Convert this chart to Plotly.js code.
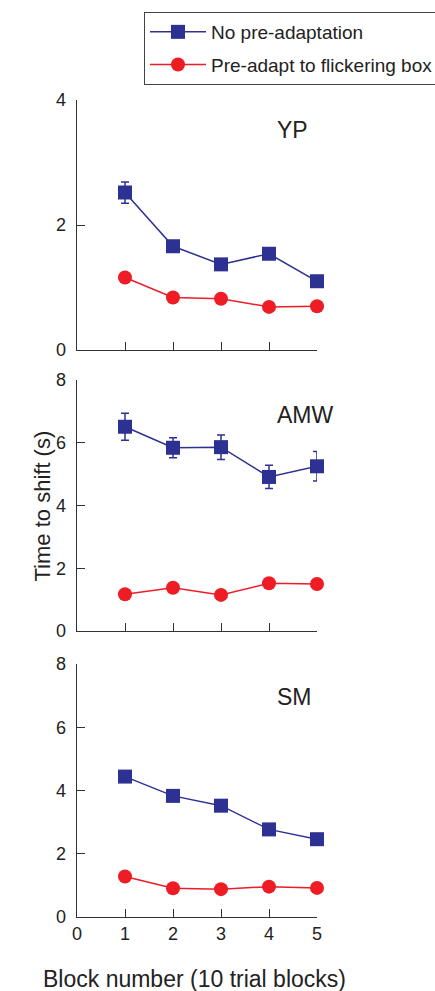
<!DOCTYPE html>
<html>
<head>
<meta charset="utf-8">
<script src="https://cdn.plot.ly/plotly-3.0.1.min.js"></script>
<style>html,body{margin:0;padding:0;background:#fff;}#chart{width:435px;height:991px;}</style>
</head>
<body>
<div id="chart"></div>
<script>
// ---- data ----
var blocks = [1, 2, 3, 4, 5];
var seriesNames = ["No pre-adaptation", "Pre-adapt to flickering box"];
var panelLabels = ["YP", "AMW", "SM"];
var xTickLabels = ["0", "1", "2", "3", "4", "5"];

var ypNoPre = [2.52, 1.66, 1.37, 1.54, 1.10];
var ypNoPreErr = [0.17, 0.05, 0.04, 0.05, 0.04];
var ypPre = [1.16, 0.84, 0.82, 0.69, 0.70];
var ypPreErr = [0.03, 0.03, 0.03, 0.03, 0.03];

var amwNoPre = [6.51, 5.84, 5.86, 4.91, 5.25];
var amwNoPreErr = [0.43, 0.32, 0.39, 0.37, 0.47];
var amwPre = [1.17, 1.38, 1.15, 1.52, 1.50];
var amwPreErr = [0.05, 0.05, 0.05, 0.1, 0.05];

var smNoPre = [4.44, 3.83, 3.52, 2.77, 2.46];
var smNoPreErr = [0.1, 0.06, 0.06, 0.06, 0.06];
var smPre = [1.28, 0.91, 0.88, 0.96, 0.92];
var smPreErr = [0.05, 0.04, 0.04, 0.04, 0.04];

var blue = "#2d3192";
var red = "#ee1c25";
var axisColor = "#333333";
var fontFam = "'Liberation Sans', Arial, Helvetica, sans-serif";

function mk(y, err, name, color, symbol, size, xa, ya, show) {
  return {
    x: blocks, y: y, name: name, type: "scatter", mode: "lines+markers",
    xaxis: xa, yaxis: ya, showlegend: show, legendgroup: name,
    cliponaxis: false,
    line: {color: color, width: 1.5},
    marker: {color: color, symbol: symbol, size: size},
    error_y: {type: "data", array: err, visible: true, color: color, thickness: 1.5, width: 4}
  };
}

var traces = [
  mk(ypNoPre, ypNoPreErr, seriesNames[0], blue, "square", 14, "x", "y", true),
  mk(ypPre, ypPreErr, seriesNames[1], red, "circle", 14, "x", "y", true),
  mk(amwNoPre, amwNoPreErr, seriesNames[0], blue, "square", 14, "x2", "y2", false),
  mk(amwPre, amwPreErr, seriesNames[1], red, "circle", 14, "x2", "y2", false),
  mk(smNoPre, smNoPreErr, seriesNames[0], blue, "square", 14, "x3", "y3", false),
  mk(smPre, smPreErr, seriesNames[1], red, "circle", 14, "x3", "y3", false)
];

var xDom = [77 / 435, 317 / 435];
function xax(anchor, showLabels) {
  return {
    domain: xDom, anchor: anchor, range: [0, 5], fixedrange: true,
    showline: true, linecolor: axisColor, linewidth: 1.3,
    showgrid: false, zeroline: false,
    ticks: "inside", ticklen: 8, tickwidth: 1, tickcolor: axisColor,
    tickvals: showLabels ? [0, 1, 2, 3, 4, 5] : [1, 2, 3, 4, 5],
    ticktext: showLabels ? xTickLabels : ["", "", "", "", ""],
    showticklabels: showLabels,
    tickfont: {size: 18, color: "#222", family: fontFam}
  };
}
function yax(anchor, dom, top, vals) {
  return {
    domain: dom, anchor: anchor, range: [0, top], fixedrange: true,
    showline: true, linecolor: axisColor, linewidth: 1.3,
    showgrid: false, zeroline: false,
    ticks: "inside", ticklen: 8, tickwidth: 1, tickcolor: axisColor,
    tickvals: vals, ticktext: vals.map(String),
    tickfont: {size: 18, color: "#222", family: fontFam},
    ticklabelstandoff: 6
  };
}

var layout = {
  width: 435, height: 991,
  margin: {l: 0, r: 0, t: 0, b: 0, autoexpand: false},
  paper_bgcolor: "#fff", plot_bgcolor: "rgba(0,0,0,0)",
  font: {family: fontFam, color: "#222"},
  xaxis: xax("y", false),
  xaxis2: xax("y2", false),
  xaxis3: xax("y3", true),
  yaxis: yax("x", [1 - 350 / 991, 1 - 100 / 991], 4, [0, 2, 4]),
  yaxis2: yax("x2", [1 - 631 / 991, 1 - 380 / 991], 8, [0, 2, 4, 6, 8]),
  yaxis3: yax("x3", [1 - 917 / 991, 1 - 664 / 991], 8, [0, 2, 4, 6, 8]),
  showlegend: true,
  legend: {
    x: 144 / 435, y: 1 - 12 / 991, xanchor: "left", yanchor: "top",
    bordercolor: "#444", borderwidth: 1, bgcolor: "#fff",
    font: {size: 19, color: "#222", family: fontFam},
    traceorder: "grouped", tracegroupgap: 5, itemwidth: 56
  },
  annotations: [
    {text: panelLabels[0], xref: "x", yref: "y", x: 4.48, y: 3.52, showarrow: false, font: {size: 23, color: "#222"}},
    {text: panelLabels[1], xref: "x2", yref: "y2", x: 4.77, y: 6.88, showarrow: false, font: {size: 23, color: "#222"}},
    {text: panelLabels[2], xref: "x3", yref: "y3", x: 4.54, y: 6.96, showarrow: false, font: {size: 23, color: "#222"}},
    {text: "Time to shift (s)", xref: "paper", yref: "paper", x: 27 / 435, y: 1 - 506 / 991, textangle: -90, showarrow: false, font: {size: 22, color: "#222"}},
    {text: "Block number (10 trial blocks)", xref: "paper", yref: "paper", x: 194 / 435, y: 1 - 979 / 991, showarrow: false, yanchor: "middle", font: {size: 23, color: "#222"}}
  ]
};

Plotly.newPlot("chart", traces, layout, {displayModeBar: false, staticPlot: true});
</script>
</body>
</html>
